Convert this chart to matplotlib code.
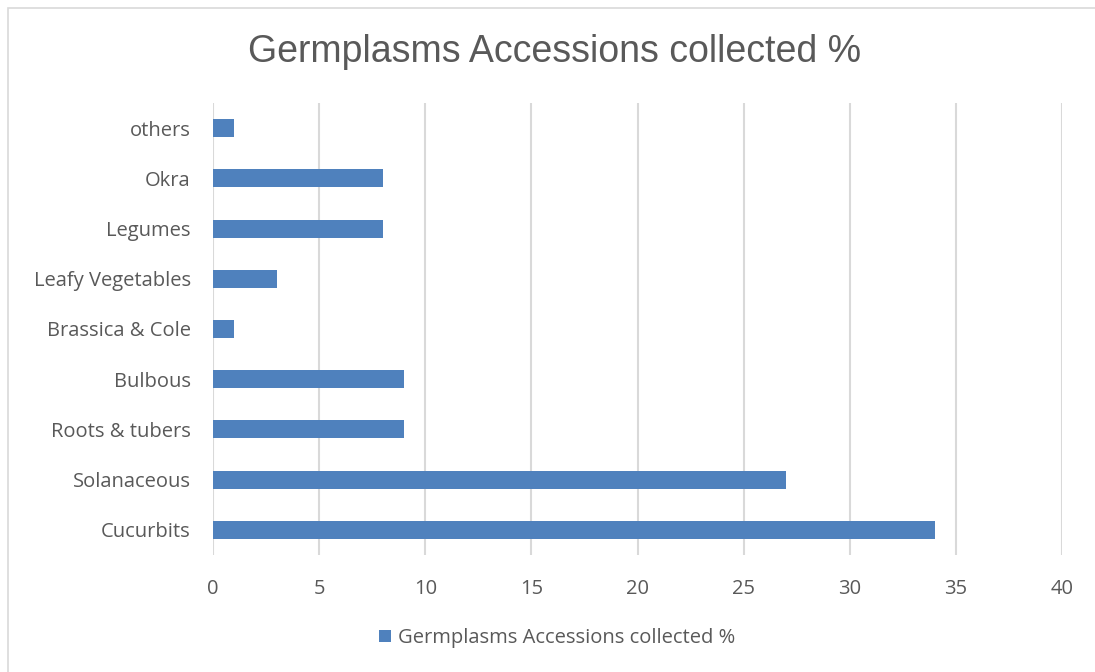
import numpy as np
import matplotlib.pyplot as plt
from matplotlib.patches import Rectangle

categories = ["Cucurbits", "Solanaceous", "Roots & tubers", "Bulbous", "Brassica & Cole",
              "Leafy Vegetables", "Legumes", "Okra", "others"]
values = [34, 27, 9, 9, 1, 3, 8, 8, 1]
seriesName = "Germplasms Accessions collected %"
xTicks = [0, 5, 10, 15, 20, 25, 30, 35, 40]

barColor = '#4F81BD'
textColor = '#595959'
gridColor = '#D9D9D9'

fig = plt.figure(figsize=(10.95, 6.72), dpi=100)
ax = fig.add_axes([213/1095, 1-555/672, (1062-213)/1095, (555-103)/672])

y = np.arange(len(categories))
ax.barh(y, values, height=0.36, color=barColor, zorder=3, label=seriesName)

ax.set_xlim(0, 40)
ax.set_ylim(-0.5, len(categories)-0.5)
ax.set_xticks(xTicks)
ax.set_xticklabels([str(t) for t in xTicks], fontsize=14.5, color=textColor, family='Open Sans')
ax.set_yticks(y)
ax.set_yticklabels(categories, fontsize=14.5, color=textColor, family='Open Sans')
ax.tick_params(length=0, pad=16, axis='y')
ax.tick_params(length=0, pad=17, axis='x')
ax.grid(True, axis='x', color=gridColor, linewidth=1.5, zorder=0)
for s in ax.spines.values():
    s.set_visible(False)

fig.text(555/1095, 1-52/672, "Germplasms Accessions collected %", ha='center', va='center',
         fontsize=27, color=textColor, family='Liberation Sans')

leg = fig.legend(loc='center', bbox_to_anchor=(0.509, 1-638/672), frameon=False,
                 prop={'family': 'Open Sans', 'size': 14.5}, handlelength=0.6, handleheight=0.6,
                 handletextpad=0.35)
for t in leg.get_texts():
    t.set_color(textColor)

# chart border
fig.patches.append(Rectangle((8/1095, -0.1), 1.2, 1-8/672+0.1, transform=fig.transFigure,
                             fill=False, edgecolor='#D9D9D9', linewidth=1.2))

plt.savefig('out.png', dpi=100)
